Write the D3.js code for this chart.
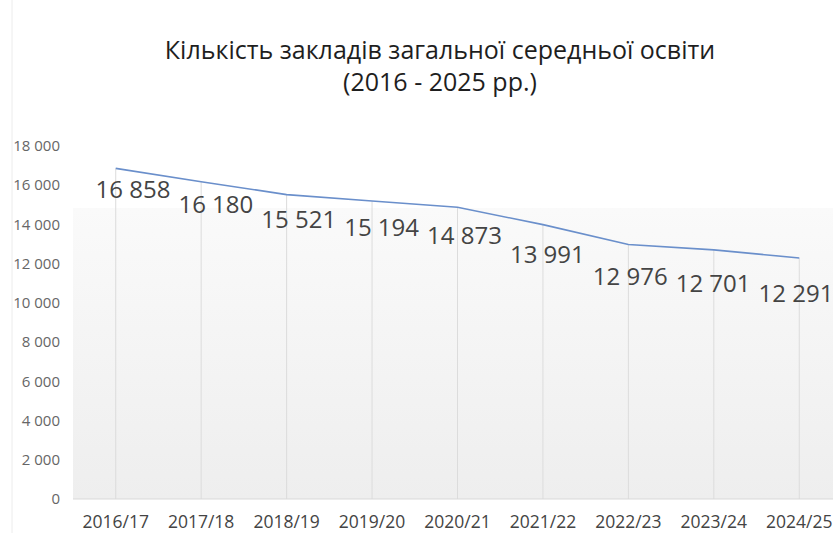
<!DOCTYPE html>
<meta charset="utf-8">
<style>
body { margin: 0; background: #fff; }
text { font-family: "Open Sans", sans-serif; }
.title { font-size: 25px; fill: #1e1e1e; text-anchor: middle; }
.ytick { font-size: 15px; fill: #666; text-anchor: end; }
.xtick { font-size: 17.5px; fill: #444; text-anchor: middle; }
.val { font-size: 24px; fill: #444; text-anchor: middle; }
</style>
<svg width="833" height="533"></svg>
<script src="https://cdn.jsdelivr.net/npm/d3@7"></script>
<script>

var years = ["2016/17", "2017/18", "2018/19", "2019/20", "2020/21", "2021/22", "2022/23", "2023/24", "2024/25"];
var schools = [16858, 16180, 15521, 15194, 14873, 13991, 12976, 12701, 12291];
var yTicks = [0, 2000, 4000, 6000, 8000, 10000, 12000, 14000, 16000, 18000];
var titleLines = ["Кількість закладів загальної середньої освіти", "(2016 - 2025 рр.)"];

var svg = d3.select("svg"),
    fmt = d3.formatLocale({decimal: ",", thousands: " ", grouping: [3], currency: ["", ""]}).format(",d");

var x = d3.scaleBand().domain(years).range([73, 842]);
var y = d3.scaleLinear().domain([0, 18000]).range([499, 146]);
// labels sit a bit off the points in the original
var xLab = d3.scalePoint().domain(years).range([133, 796]);

var defs = svg.append("defs");
var grad = defs.append("linearGradient").attr("id", "bg").attr("x1", 0).attr("y1", 0).attr("x2", 0).attr("y2", 1);
grad.append("stop").attr("offset", "0%").attr("stop-color", "#fafafa");
grad.append("stop").attr("offset", "100%").attr("stop-color", "#eeeeee");

// faint frame line at left
svg.append("line").attr("x1", 12).attr("x2", 12).attr("y1", 0).attr("y2", 533)
    .attr("stroke", "#ececec").attr("stroke-width", 1);

svg.append("rect").attr("x", 73).attr("y", 208).attr("width", 833 - 73).attr("height", y(0) - 208)
    .attr("fill", "url(#bg)");

svg.selectAll(".title").data(titleLines).enter().append("text")
    .attr("class", "title")
    .attr("x", 440)
    .attr("y", function(d, i) { return 59 + i * 32; })
    .text(function(d) { return d; });

svg.selectAll(".ytick").data(yTicks).enter().append("text")
    .attr("class", "ytick")
    .attr("x", 60)
    .attr("y", function(d) { return y(d); })
    .attr("dy", "0.35em")
    .text(function(d) { return fmt(d); });

// drop lines
svg.selectAll(".drop").data(years).enter().append("line")
    .attr("x1", function(d) { return x(d) + x.bandwidth() / 2; })
    .attr("x2", function(d) { return x(d) + x.bandwidth() / 2; })
    .attr("y1", function(d, i) { return y(schools[i]); })
    .attr("y2", y(0))
    .attr("stroke", "#dcdcdc").attr("stroke-width", 1);

svg.append("line").attr("x1", 73).attr("x2", 833).attr("y1", y(0)).attr("y2", y(0))
    .attr("stroke", "#d9d9d9").attr("stroke-width", 1);

svg.selectAll(".xtick").data(years).enter().append("text")
    .attr("class", "xtick")
    .attr("x", function(d) { return x(d) + x.bandwidth() / 2; })
    .attr("y", 528)
    .text(function(d) { return d; });

var line = d3.line()
    .x(function(d, i) { return x(years[i]) + x.bandwidth() / 2; })
    .y(function(d) { return y(d); });

svg.append("path").datum(schools)
    .attr("d", line)
    .attr("fill", "none")
    .attr("stroke", "#6a8fcb")
    .attr("stroke-width", 1.6);

svg.selectAll(".val").data(schools).enter().append("text")
    .attr("class", "val")
    .attr("x", function(d, i) { return xLab(years[i]); })
    .attr("y", function(d, i) { return y(d) + 30 + i * 1.7; })
    .text(function(d) { return fmt(d); });

</script>
